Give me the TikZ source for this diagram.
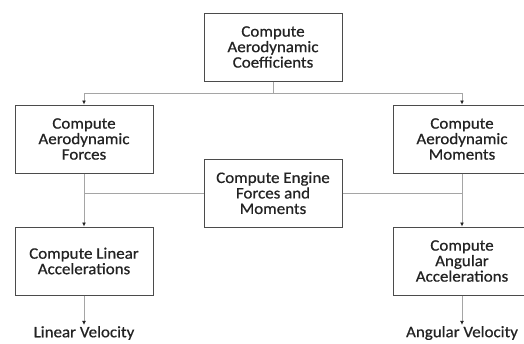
\documentclass[tikz,border=0pt]{standalone}
\usepackage{fontspec}
\setmainfont{Carlito}[FakeStretch=1.06,FakeBold=0.6]
\usepackage{tikz}
\usetikzlibrary{positioning,arrows.meta}
\definecolor{boxline}{RGB}{75,75,75}
\definecolor{wire}{RGB}{165,165,165}
\definecolor{ink}{RGB}{35,35,35}
\def\boxfont{\fontsize{16}{15.5}\selectfont}

\begin{document}
\begin{tikzpicture}[x=1pt,y=-1pt,
  block/.style={draw=boxline,line width=1pt,fill=white,text=ink,align=center,
    minimum width=138pt,minimum height=68pt,inner sep=2pt,font=\boxfont},
  wire/.style={draw=wire,line width=0.8pt},
  feed/.style={wire,-{Latex[length=4pt,width=4pt,color=ink]}},
  outlabel/.style={text=ink,font=\boxfont,inner sep=1pt}]
			\useasboundingbox (0,0) rectangle (524,343);
			% boxes
			\node[block] (coef)    at (273,47)  {Compute\\Aerodynamic\\Coefficients};
			\node[block] (forces)  at (84,139)  {Compute\\Aerodynamic\\Forces};
			\node[block] (moments) at (462,139) {Compute\\Aerodynamic\\Moments};
			\node[block] (engine)  at (273,193) {Compute Engine\\Forces and\\Moments};
			\node[block] (linacc)  at (84,261)  {Compute Linear\\Accelerations};
			\node[block] (angacc)  at (462,261) {Compute\\Angular\\Accelerations};
			\node[outlabel] (linvel) at (84,333)  {Linear Velocity};
			\node[outlabel] (angvel) at (462,333) {Angular Velocity};
			% connectors
			\coordinate (split) at (273,93);
			\draw[wire] (coef.south) -- (split);
			\draw[feed] (split) -| (forces.north);
			\draw[feed] (split) -| (moments.north);
			\draw[feed] (forces.south) -- (linacc.north);
			\draw[feed] (moments.south) -- (angacc.north);
			\draw[wire] (engine.west) -- (engine.west -| forces.south);
			\draw[wire] (engine.east) -- (engine.east -| moments.south);
			\draw[feed] (linacc.south) -- (linvel.north);
			\draw[feed] (angacc.south) -- (angvel.north);
		\end{tikzpicture}
\end{document}
